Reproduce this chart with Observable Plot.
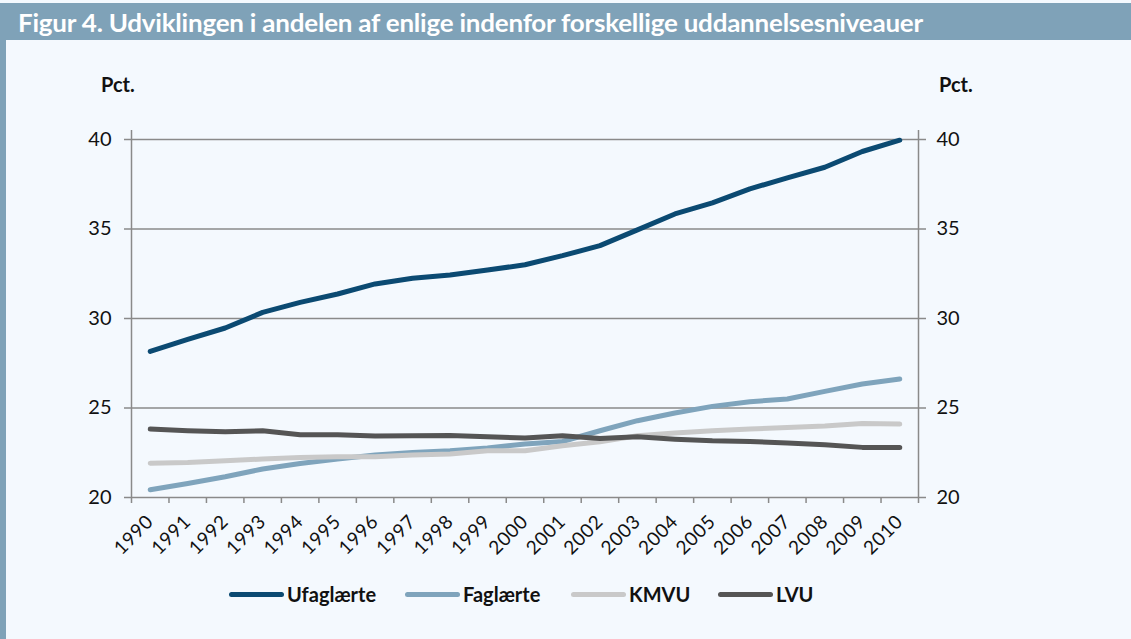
<!DOCTYPE html>
<html><head><meta charset="utf-8">
<script src="https://cdn.jsdelivr.net/npm/d3@7"></script>
<script src="https://cdn.jsdelivr.net/npm/@observablehq/plot@0.6"></script>
<style>
html,body{margin:0;padding:0;background:#ffffff;}
#wrap{position:relative;width:1131px;height:639px;background:#f4f9fe;overflow:hidden;font-family:Lato,"Open Sans",sans-serif;}
#bar{position:absolute;left:0;top:3px;width:1131px;height:37px;background:#7fa2b8;}
#stripe{position:absolute;left:0;top:3px;width:6px;height:636px;background:#7fa2b8;}
#title{position:absolute;left:18px;top:8px;color:#fff;font-weight:700;font-size:24px;white-space:nowrap;transform-origin:0 0;letter-spacing:-0.2px;}
.pct{position:absolute;top:72px;font-weight:700;font-size:20px;color:#111;}
#chart{position:absolute;left:0;top:60px;}
#legend{position:absolute;top:581px;left:0;width:1131px;height:26px;}
.item{position:absolute;top:0;display:flex;align-items:center;font-weight:700;font-size:20px;color:#111;height:26px;}
.sw{width:55px;height:5px;border-radius:3px;margin-right:3px;}
.yearlab text{letter-spacing:0.6px;}
</style></head>
<body>
<div id="wrap">
  <div id="bar"></div><div id="stripe"></div>
  <div id="title">Figur 4. Udviklingen i andelen af enlige indenfor forskellige uddannelsesniveauer</div>
  <div class="pct" style="left:101px">Pct.</div>
  <div class="pct" style="left:939px">Pct.</div>
  <div id="chart"></div>
  <div id="legend"></div>
</div>
<script>
const years = [1990,1991,1992,1993,1994,1995,1996,1997,1998,1999,2000,2001,2002,2003,2004,2005,2006,2007,2008,2009,2010];
const seriesNames = ["Ufaglærte","Faglærte","KMVU","LVU"];
const seriesColors = ["#0b4a72","#7fa4bc","#c9c9c9","#555555"];
const ufaglaerte = [28.16,28.84,29.47,30.34,30.90,31.37,31.93,32.25,32.43,32.71,33.00,33.51,34.07,34.95,35.84,36.46,37.24,37.86,38.45,39.33,39.96];
const faglaerte = [20.43,20.78,21.16,21.59,21.90,22.15,22.37,22.52,22.61,22.76,22.99,23.13,23.73,24.29,24.72,25.09,25.35,25.50,25.93,26.34,26.62];
const kmvu = [21.92,21.96,22.05,22.15,22.24,22.28,22.28,22.37,22.43,22.61,22.61,22.89,23.11,23.45,23.60,23.73,23.82,23.91,24.00,24.14,24.10];
const lvu = [23.82,23.73,23.67,23.73,23.50,23.50,23.43,23.45,23.47,23.39,23.32,23.45,23.30,23.39,23.26,23.17,23.13,23.04,22.95,22.80,22.80];
const yTicks = [20,25,30,35,40];

const seriesValues = [ufaglaerte, faglaerte, kmvu, lvu];
const data = [];
seriesNames.forEach((name, i) => years.forEach((yr, j) => data.push({series: name, year: yr, value: seriesValues[i][j]})));
const xDomain = [years[0] - 0.5, years[years.length - 1] + 0.5];
const boundaries = [...years.map(y => y - 0.5), years[years.length - 1] + 0.5];

const chart = Plot.plot({
  width: 1131,
  height: 520,
  marginLeft: 131,
  marginRight: 213,
  marginTop: 79,
  marginBottom: 83,
  style: {background: "transparent", fontFamily: "Lato, 'Open Sans', sans-serif", fontSize: "20px", color: "#111"},
  x: {domain: xDomain, type: "linear"},
  y: {domain: [20, 40]},
  color: {domain: seriesNames, range: seriesColors},
  marks: [
    Plot.gridY(yTicks, {stroke: "#8a8a8a", strokeOpacity: 1, strokeWidth: 1.3}),
    Plot.ruleX([xDomain[0], xDomain[1]], {stroke: "#8a8a8a", strokeWidth: 1.5, insetTop: -9}),
    Plot.axisY(yTicks, {anchor: "left", tickSize: 7, tickPadding: 13, stroke: "#8a8a8a", strokeWidth: 1.5, fontSize: 20, label: null}),
    Plot.axisY(yTicks, {anchor: "right", tickSize: 7, tickPadding: 11, stroke: "#8a8a8a", strokeWidth: 1.5, fontSize: 20, label: null}),
    Plot.axisX(boundaries, {anchor: "bottom", tickSize: 6, tickFormat: () => "", stroke: "#8a8a8a", strokeWidth: 1.5, label: null}),
    Plot.axisX(years, {anchor: "bottom", tickSize: 0, tickPadding: 21, tickRotate: -45, tickFormat: d => String(d), fontSize: 19, label: null, className: "yearlab"}),
    Plot.line(data, {x: "year", y: "value", z: "series", stroke: "series", strokeWidth: 5, strokeLinecap: "round", strokeLinejoin: "round", curve: "linear"})
  ]
});
document.getElementById("chart").appendChild(chart);

// legend
const legendLefts = [229, 405, 571, 718];
const legend = document.getElementById("legend");
seriesNames.forEach((name, i) => {
  const it = document.createElement("div");
  it.className = "item";
  it.style.left = legendLefts[i] + "px";
  const sw = document.createElement("div");
  sw.className = "sw";
  sw.style.background = seriesColors[i];
  const tx = document.createElement("span");
  tx.textContent = name;
  it.appendChild(sw); it.appendChild(tx);
  legend.appendChild(it);
});

// fit title width to reference
const t = document.getElementById("title");
const w = t.getBoundingClientRect().width;
t.style.transform = `scaleX(${905 / w})`;
</script>
</body></html>
